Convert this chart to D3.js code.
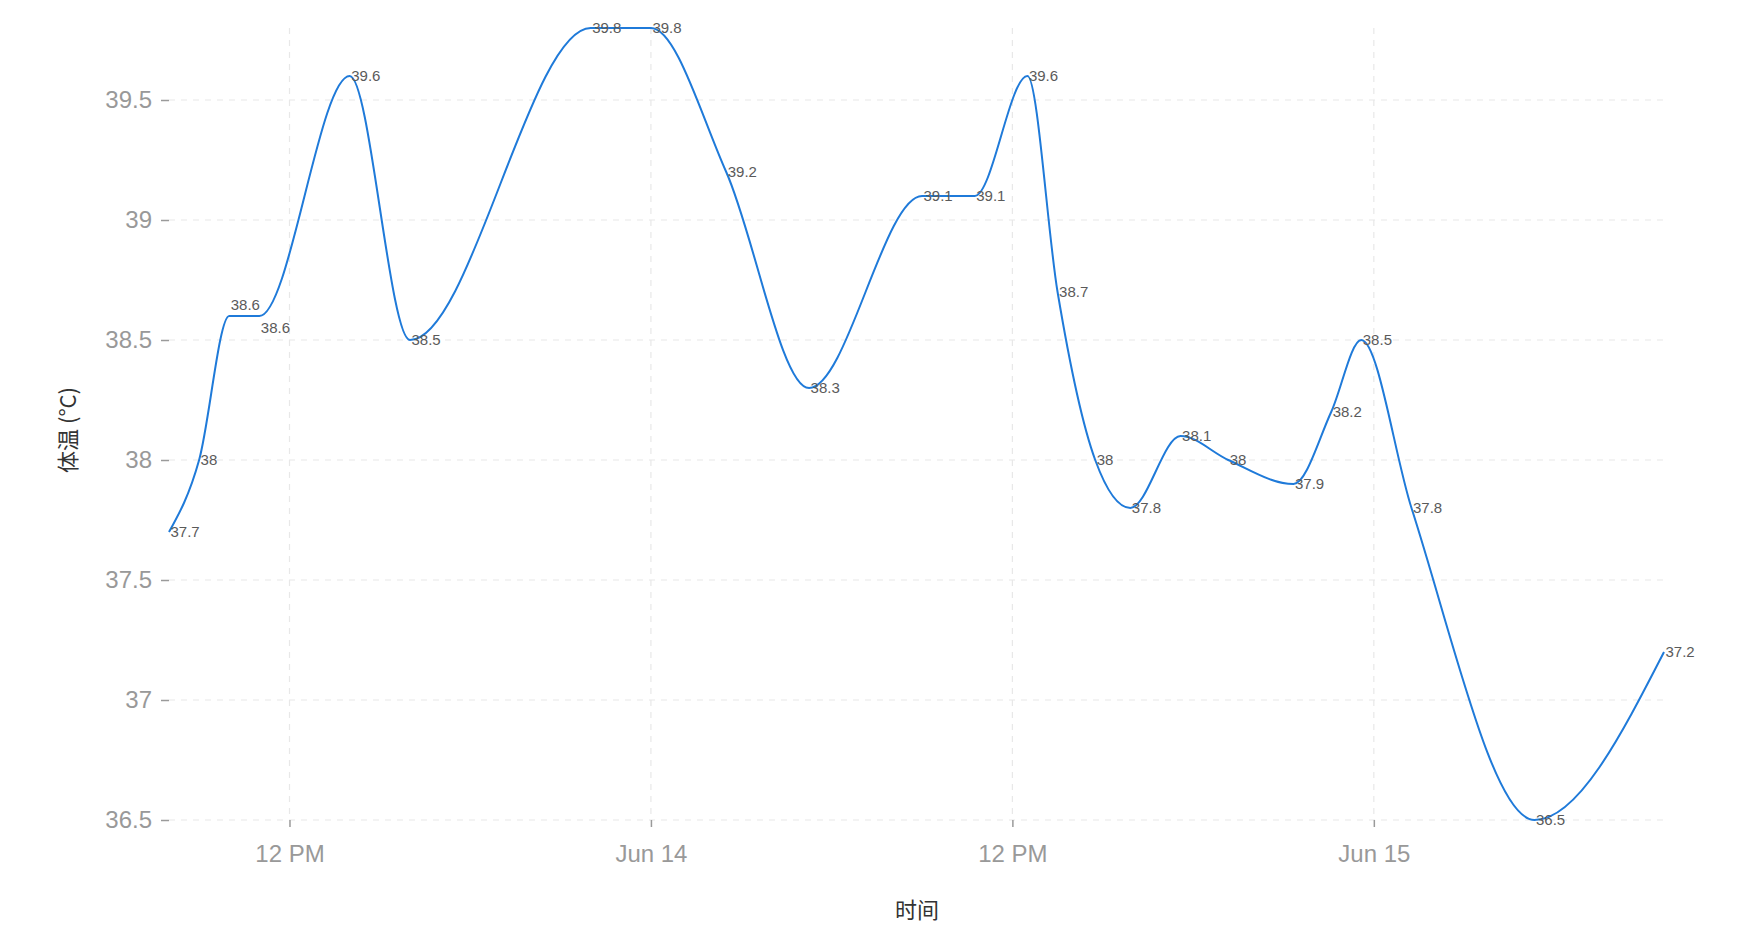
<!DOCTYPE html>
<html>
<head>
<meta charset="utf-8">
<script src="https://cdn.jsdelivr.net/npm/d3@7"></script>
<style>
  html, body { margin: 0; padding: 0; background: #fff; }
  svg { display: block; font-family: "Liberation Sans", Arial, "Noto Sans CJK SC", sans-serif; }
</style>
</head>
<body>
<script>
// ---- data ----
const times = [
  "2024-06-13 08:00", "2024-06-13 09:00", "2024-06-13 10:00", "2024-06-13 11:00",
  "2024-06-13 14:00", "2024-06-13 16:00", "2024-06-13 22:00", "2024-06-14 00:00",
  "2024-06-14 02:30", "2024-06-14 05:15", "2024-06-14 09:00", "2024-06-14 10:45",
  "2024-06-14 12:30", "2024-06-14 13:30", "2024-06-14 14:45", "2024-06-14 15:55",
  "2024-06-14 17:35", "2024-06-14 19:10", "2024-06-14 21:20", "2024-06-14 22:35",
  "2024-06-14 23:35", "2024-06-15 01:15", "2024-06-15 05:20", "2024-06-15 09:38"
];
const temps = [
  37.7, 38.0, 38.6, 38.6,
  39.6, 38.5, 39.8, 39.8,
  39.2, 38.3, 39.1, 39.1,
  39.6, 38.7, 38.0, 37.8,
  38.1, 38.0, 37.9, 38.2,
  38.5, 37.8, 36.5, 37.2
];
const yTicks = [36.5, 37, 37.5, 38, 38.5, 39, 39.5];
const yDomain = [36.5, 39.8];
const xTitle = "时间";
const yTitle = "体温 (°C)";

// ---- chart ----
(function () {
const W = 1754, H = 938;
const mLeft = 169, mRight = 1664, mTop = 28, mBottom = 820;
const parse = d3.timeParse("%Y-%m-%d %H:%M");
const data = times.map((t, i) => ({ t: parse(t), v: temps[i] }));

const svg = d3.select("body").append("svg").attr("width", W).attr("height", H);

const x = d3.scaleTime().domain(d3.extent(data, d => d.t)).range([mLeft, mRight]);
const y = d3.scaleLinear().domain(yDomain).range([mBottom, mTop]);
const xTicks = x.ticks(d3.timeHour.every(12));
const fmtDay = d3.timeFormat("%b %-d"), fmtHour = d3.timeFormat("%-I %p");
const xFormat = d => (d3.timeDay(d) < d ? fmtHour(d) : fmtDay(d));

// grid
const grid = svg.append("g");
grid.selectAll("line.h").data(yTicks).join("line").attr("class", "h")
  .attr("x1", mLeft).attr("x2", mRight)
  .attr("y1", d => y(d)).attr("y2", d => y(d))
  .attr("stroke", "#e8e8e8").attr("stroke-width", 1.2).attr("stroke-dasharray", "6,6");
grid.selectAll("line.v").data(xTicks).join("line").attr("class", "v")
  .attr("x1", d => x(d)).attr("x2", d => x(d))
  .attr("y1", mTop).attr("y2", mBottom)
  .attr("stroke", "#e8e8e8").attr("stroke-width", 1.2).attr("stroke-dasharray", "6,6");

// axes
const yAxis = svg.append("g").attr("transform", `translate(${mLeft},0)`)
  .call(d3.axisLeft(y).tickValues(yTicks).tickSize(8).tickPadding(9).tickFormat(d3.format("~g")));
const xAxis = svg.append("g").attr("transform", `translate(0,${mBottom})`)
  .call(d3.axisBottom(x).tickValues(xTicks).tickSize(7).tickPadding(18).tickFormat(xFormat));
[yAxis, xAxis].forEach(a => {
  a.select(".domain").remove();
  a.selectAll(".tick line").attr("stroke", "#9a9a9a").attr("stroke-width", 1.5);
  a.selectAll(".tick text").attr("fill", "#999").style("font-size", "24px")
    .style("font-family", '"Liberation Sans", Arial, sans-serif');
});

// titles
svg.append("text").attr("x", 917).attr("y", 918).attr("text-anchor", "middle")
  .attr("fill", "#333").style("font-size", "22px")
  .style("font-family", '"Noto Sans CJK SC", sans-serif').text(xTitle);
svg.append("text").attr("transform", "translate(76,430) rotate(-90)").attr("text-anchor", "middle")
  .attr("fill", "#333").style("font-size", "22px")
  .style("font-family", '"Noto Sans CJK SC", sans-serif').text(yTitle);

// line
const line = d3.line().x(d => x(d.t)).y(d => y(d.v)).curve(d3.curveMonotoneX);
svg.append("path").datum(data).attr("d", line)
  .attr("fill", "none").attr("stroke", "#1f7ad9").attr("stroke-width", 2);

// labels
const labels = svg.append("g").selectAll("text").data(data).join("text")
  .attr("x", d => x(d.t) + 1.5).attr("y", d => y(d.v))
  .attr("dy", "0.35em")
  .attr("fill", "#5a5a5a").style("font-size", "15px")
  .style("font-family", '"Liberation Sans", Arial, sans-serif')
  .text(d => d3.format("~g")(d.v));
const nodes = labels.nodes();
for (let i = 1; i < nodes.length; i++) {
  const px = +nodes[i - 1].getAttribute("x"), pw = nodes[i - 1].getComputedTextLength();
  const cx = +nodes[i].getAttribute("x");
  const py = +nodes[i - 1].getAttribute("y"), cy = +nodes[i].getAttribute("y");
  if (cx < px + pw + 3 && Math.abs(cy - py) < 16) {
    nodes[i - 1].setAttribute("y", py - 11);
    nodes[i].setAttribute("y", cy + 12);
  }
}
})();
</script>
</body>
</html>
